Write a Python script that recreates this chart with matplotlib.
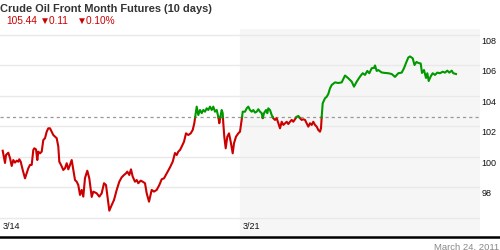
import numpy as np
import matplotlib.pyplot as plt
import matplotlib.transforms as mtransforms
from matplotlib.lines import Line2D

# Data: hours since the open of 3/14 (24 h per trading day) and price
hours = [1.35, 2.5, 3.0, 4.15, 5.0, 5.85, 6.65, 7.5, 8.35, 9.15, 9.65, 10.35,
         11.35, 12.5, 13.35, 14.15, 15.0, 15.85, 16.65, 17.15, 18.0, 18.65, 19.15,
         20.0, 20.85, 21.65, 22.5, 23.35, 24.15, 25.0, 25.85, 26.65, 27.5, 28.35,
         29.15, 29.65, 30.5, 31.65, 32.5, 33.35, 34.15, 35.0, 35.85, 36.65, 37.5,
         38.35, 39.15, 40.0, 40.85, 41.65, 42.5, 43.65, 44.65, 45.85, 46.65, 48.35,
         49.65, 50.85, 52.0, 53.0, 53.65, 54.65, 55.85, 57.0, 58.35, 59.65, 60.85,
         62.0, 63.0, 63.65, 64.65, 65.5, 66.35, 67.5, 68.35, 69.15, 70.35, 71.35,
         72.5, 73.35, 74.5, 75.85, 77.0, 78.35, 79.65, 80.85, 82.0, 83.35, 85.0,
         86.35, 87.5, 88.35, 89.15, 90.0, 90.85, 92.0, 93.0, 94.15, 95.35, 96.35,
         97.15, 97.85, 98.35, 99.15, 100.0, 100.85, 101.65, 102.5, 103.35, 104.15,
         105.0, 105.85, 106.65, 107.5, 108.35, 109.15, 109.65, 110.35, 110.85,
         111.35, 111.65, 112.15, 112.85, 113.65, 114.5, 115.35, 116.35, 117.0,
         118.0, 119.15, 120.0, 120.85, 121.35, 122.5, 123.35, 124.15, 125.0, 125.85,
         126.65, 127.5, 128.35, 129.15, 130.0, 130.85, 131.35, 132.0, 133.0,
         133.65, 134.15, 135.0, 135.85, 136.65, 137.5, 138.35, 139.15, 140.0,
         140.85, 141.65, 142.5, 143.35, 144.15, 145.0, 145.85, 146.65, 147.5,
         148.35, 149.15, 150.0, 150.85, 151.65, 152.5, 153.35, 154.15, 155.0,
         155.85, 156.65, 157.5, 158.35, 159.15, 160.0, 160.5, 160.85, 161.35,
         162.5, 163.35, 164.15, 165.0, 165.85, 167.5, 169.15, 170.85, 172.5,
         174.15, 175.85, 177.0, 178.35, 180.0, 181.35, 182.5, 183.65, 184.65,
         185.85, 187.0, 187.5, 188.35, 189.15, 190.85, 192.5, 194.15, 195.85,
         197.5, 199.15, 200.85, 202.0, 203.0, 204.15, 205.0, 206.35, 207.25,
         208.25, 209.25, 210.35, 211.0, 212.0, 213.0, 213.65, 214.35, 215.35,
         216.35, 217.5, 218.65, 220.0, 221.35, 222.5, 223.65, 224.65, 225.85,
         226.65, 228.0]
price = [100.41, 99.61, 100.13, 100.28, 99.93, 99.41, 99.80, 99.63, 99.76, 99.69,
         99.85, 99.69, 99.15, 98.60, 98.93, 99.26, 99.48, 99.48, 100.46, 100.57,
         100.50, 99.80, 100.35, 100.24, 100.35, 101.11, 101.23, 101.66, 101.88,
         101.88, 101.66, 101.44, 101.33, 101.23, 100.68, 99.69, 99.48, 99.15,
         99.26, 99.59, 99.19, 99.48, 99.80, 99.15, 98.49, 98.38, 98.16, 97.51,
         97.84, 97.40, 98.62, 99.10, 98.60, 97.38, 97.73, 97.62, 97.40, 97.62,
         98.28, 98.16, 97.51, 96.48, 96.85, 97.18, 97.84, 98.38, 98.67, 98.82,
         98.93, 99.04, 98.82, 99.19, 98.71, 98.38, 98.49, 98.28, 98.45, 98.38,
         98.28, 97.62, 97.07, 97.84, 97.73, 97.84, 98.16, 98.54, 98.60, 98.93,
         99.32, 99.69, 100.26, 100.13, 100.35, 100.46, 100.68, 101.00, 101.55,
         101.44, 101.55, 101.77, 102.21, 102.87, 103.30, 102.75, 103.08, 102.87,
         103.08, 102.97, 103.19, 103.08, 103.30, 103.08, 103.30, 102.97, 103.08,
         102.64, 102.21, 102.75, 103.08, 102.87, 102.21, 101.33, 100.57, 101.33,
         101.55, 101.00, 100.24, 100.90, 101.33, 101.55, 101.66, 102.43, 102.97,
         102.97, 103.19, 103.30, 103.08, 102.97, 103.08, 102.91, 102.97, 103.13,
         102.97, 102.87, 102.54, 102.87, 103.08, 102.87, 103.19, 103.08, 102.75,
         102.54, 102.43, 102.54, 102.21, 101.88, 102.31, 102.10, 102.21, 102.31,
         102.16, 102.31, 102.43, 102.31, 102.47, 102.64, 102.69, 102.54, 102.43,
         102.47, 102.43, 102.21, 101.99, 102.21, 102.10, 102.31, 102.10, 101.99,
         101.77, 101.66, 101.88, 102.64, 103.52, 103.85, 103.95, 104.13, 104.50,
         104.72, 104.89, 104.85, 104.89, 105.34, 105.16, 104.94, 104.61, 104.94,
         105.27, 105.49, 105.38, 105.64, 105.49, 105.82, 105.84, 106.00, 105.64,
         105.70, 105.54, 105.51, 105.49, 105.44, 105.25, 105.49, 105.53, 105.82,
         106.16, 106.52, 106.59, 106.47, 106.03, 106.23, 106.16, 106.13, 105.51,
         105.70, 105.18, 105.49, 104.98, 105.28, 105.49, 105.38, 105.53, 105.49,
         105.59, 105.53, 105.66, 105.53, 105.66, 105.49, 105.44]
ref_price = 102.6
y_ticks = [108, 106, 104, 102, 100, 98]
grid_levels = [108, 106, 104, 102, 100, 98, 96]
x_labels = ['3/14', '3/21']
x_label_pos = [0, 120]

red = '#cc0000'
green = '#009900'

# split the line where it crosses the reference price
t = np.array(hours, dtype=float)
p = np.array(price, dtype=float)
tt, pp = [t[0]], [p[0]]
for i in range(1, len(t)):
    a, b = p[i - 1] - ref_price, p[i] - ref_price
    if a * b < 0:
        f = a / (a - b)
        tt.append(t[i - 1] + f * (t[i] - t[i - 1]))
        pp.append(ref_price)
    tt.append(t[i])
    pp.append(p[i])
tt = np.array(tt)
pp = np.array(pp)
below = np.where(pp <= ref_price + 1e-9, pp, np.nan)
above = np.where(pp >= ref_price - 1e-9, pp, np.nan)

fig = plt.figure(figsize=(5, 2.5), dpi=100)
ax = fig.add_axes([0.0, 0.056, 0.96, 0.828])
ax.set_xlim(0, 240)
ax.set_ylim(94.82, 108.39)
ax.axis('off')

ax.axvspan(120, 240, color='#f6f6f6', zorder=0)
for g in grid_levels:
    ax.axhline(g, color='#e9e9e9', lw=1.0, zorder=1)
ax.axhline(ref_price, color='#999999', lw=0.9, ls=(0, (2.5, 2.5)), zorder=2)

ax.plot(tt, below, color=red, lw=1.5, zorder=3, solid_joinstyle='round')
ax.plot(tt, above, color=green, lw=1.5, zorder=3, solid_joinstyle='round')

trans = mtransforms.blended_transform_factory(ax.transAxes, ax.transData)
for v in y_ticks:
    ax.text(1.003, v - 0.4, str(v), transform=trans, fontsize=6.5,
            family='Liberation Sans', va='center', ha='left', color='#111111')

trans_x = mtransforms.blended_transform_factory(ax.transData, ax.transAxes)
for pos, lab in zip(x_label_pos, x_labels):
    ax.text(pos + 1.5, 0.045, lab, transform=trans_x, fontsize=6.5,
            family='Liberation Sans', va='center', ha='left', color='#111111')

# axis baseline across the full width
fig.add_artist(Line2D([0, 1], [1 - 237 / 250, 1 - 237 / 250], color='black',
                      lw=1.8, transform=fig.transFigure))

fig.text(0.0, 1 - 9 / 250, 'Crude Oil Front Month Futures (10 days)', fontsize=7.9,
         fontweight='bold', family='Liberation Sans', color='#333333', va='center')
fig.text(6 / 500, 1 - 21 / 250, '105.44', fontsize=7.3, family='Liberation Sans',
         color=red, va='center')
fig.text(40 / 500, 1 - 21 / 250, '\u25bc0.11', fontsize=7.3,
         family=['Liberation Sans', 'DejaVu Sans'], color=red, va='center')
fig.text(77 / 500, 1 - 21 / 250, '\u25bc0.10%', fontsize=7.3,
         family=['Liberation Sans', 'DejaVu Sans'], color=red, va='center')
fig.text(0.998, 1 - 247 / 250, 'March 24, 2011', fontsize=6.8, family='Liberation Sans',
         color='#888888', va='center', ha='right')

fig.savefig('out.png', dpi=100)
